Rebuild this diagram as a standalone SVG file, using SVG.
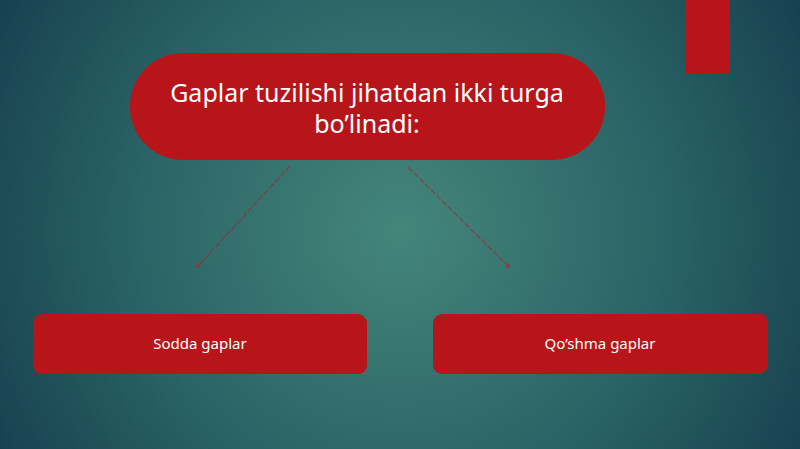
<svg xmlns="http://www.w3.org/2000/svg" width="800" height="449" viewBox="0 0 800 449">
<defs>
<radialGradient id="bg" cx="400" cy="230" r="520" gradientUnits="userSpaceOnUse">
<stop offset="0" stop-color="#44867a"/>
<stop offset="0.5" stop-color="#2a6466"/>
<stop offset="1" stop-color="#123648"/>
</radialGradient>
<marker id="dot" viewBox="0 0 6 6" refX="3" refY="3" markerWidth="4" markerHeight="4" markerUnits="userSpaceOnUse">
<circle cx="3" cy="3" r="3" fill="#b81a40"/>
</marker>
</defs>
<style>
.box{fill:#b8151a;}
.t{fill:#ffffff;font-family:"Noto Sans","Open Sans","DejaVu Sans",sans-serif;text-anchor:middle;}
.big{font-size:25px;}
.small{font-size:15px;}
.conn{stroke:#b01e30;stroke-width:1.2;stroke-dasharray:6 2;fill:none;opacity:0.65;}
</style>
<rect width="800" height="449" fill="url(#bg)"/>
<rect x="685" y="0" width="45" height="74" fill="#b8151a"/>
<g id="connectors">
<line class="conn" x1="290" y1="166" x2="198" y2="266" marker-end="url(#dot)"/>
<line class="conn" x1="408" y1="167" x2="508" y2="266" marker-end="url(#dot)"/>
</g>
<g id="title">
<rect class="box" x="130" y="53" width="475" height="107" rx="53"/>
<text class="t big"><tspan x="367" y="102">Gaplar tuzilishi jihatdan ikki turga</tspan><tspan x="367" y="133">bo’linadi:</tspan></text>
</g>
<g id="sodda">
<rect class="box" x="33" y="314" width="334" height="60" rx="9"/>
<text class="t small" x="200" y="349">Sodda gaplar</text>
</g>
<g id="qoshma">
<rect class="box" x="433" y="314" width="335" height="60" rx="9"/>
<text class="t small" x="600" y="349">Qo’shma gaplar</text>
</g>
</svg>
